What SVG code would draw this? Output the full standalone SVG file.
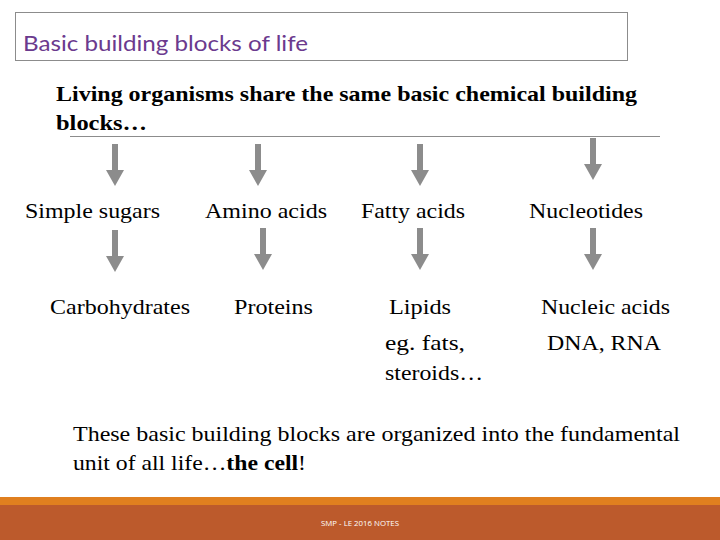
<svg xmlns="http://www.w3.org/2000/svg" width="720" height="540" viewBox="0 0 720 540">
<style>
.t{font-family:"Liberation Serif",serif;font-size:21px;fill:#000}
.a{fill:#8c8c8c}
</style>
<defs>
<path id="arr" class="a" d="M-3,0 H3 V26 H9 L0,42 L-9,26 H-3 Z"/>
</defs>
<rect width="720" height="540" fill="#fff"/>
<g id="title">
<rect x="15.5" y="12.5" width="612" height="48" fill="none" stroke="#8c8c8c"/>
<text x="23" y="51" font-family="Lato,'Open Sans',sans-serif" font-size="21" fill="#6b3a8e" textLength="285" lengthAdjust="spacingAndGlyphs">Basic building blocks of life</text>
</g>
<g id="intro">
<text class="t" x="56" y="101" font-weight="bold" textLength="581" lengthAdjust="spacingAndGlyphs">Living organisms share the same basic chemical building</text>
<text class="t" x="56" y="130" font-weight="bold" textLength="91" lengthAdjust="spacingAndGlyphs">blocks…</text>
<line x1="70" y1="136.5" x2="660" y2="136.5" stroke="#8c8c8c"/>
</g>
<g id="connectors">
<use href="#arr" x="115" y="144"/>
<use href="#arr" x="258" y="144"/>
<use href="#arr" x="420" y="144"/>
<use href="#arr" x="593" y="138"/>
<use href="#arr" x="115" y="230"/>
<use href="#arr" x="263" y="228"/>
<use href="#arr" x="420" y="228"/>
<use href="#arr" x="593" y="228"/>
</g>
<g id="simple-sugars"><text class="t" x="25" y="218" textLength="135" lengthAdjust="spacingAndGlyphs">Simple sugars</text></g>
<g id="amino-acids"><text class="t" x="205" y="218" textLength="122" lengthAdjust="spacingAndGlyphs">Amino acids</text></g>
<g id="fatty-acids"><text class="t" x="361" y="218" textLength="104" lengthAdjust="spacingAndGlyphs">Fatty acids</text></g>
<g id="nucleotides"><text class="t" x="529" y="218" textLength="114" lengthAdjust="spacingAndGlyphs">Nucleotides</text></g>
<g id="carbohydrates"><text class="t" x="50" y="314" textLength="140" lengthAdjust="spacingAndGlyphs">Carbohydrates</text></g>
<g id="proteins"><text class="t" x="234" y="314" textLength="79" lengthAdjust="spacingAndGlyphs">Proteins</text></g>
<g id="lipids"><text class="t" x="389" y="314" textLength="62" lengthAdjust="spacingAndGlyphs">Lipids</text>
<text class="t" x="385" y="350" textLength="80" lengthAdjust="spacingAndGlyphs">eg. fats,</text>
<text class="t" x="385" y="380" textLength="98" lengthAdjust="spacingAndGlyphs">steroids…</text></g>
<g id="nucleic-acids"><text class="t" x="541" y="314" textLength="129" lengthAdjust="spacingAndGlyphs">Nucleic acids</text>
<text class="t" x="547" y="350" textLength="114" lengthAdjust="spacingAndGlyphs">DNA, RNA</text></g>
<g id="conclusion">
<text class="t" x="73" y="441" textLength="607" lengthAdjust="spacingAndGlyphs">These basic building blocks are organized into the fundamental</text>
<text class="t" x="73" y="470" textLength="233" lengthAdjust="spacingAndGlyphs">unit of all life…<tspan font-weight="bold">the cell</tspan>!</text>
</g>
<g id="footer">
<rect x="0" y="497" width="720" height="8" fill="#e07f1f"/>
<rect x="0" y="505" width="720" height="35" fill="#bc5a2c"/>
<text x="360" y="526" text-anchor="middle" font-family="'Open Sans',sans-serif" font-size="7" fill="#fff" textLength="78" lengthAdjust="spacingAndGlyphs">SMP - LE 2016 NOTES</text>
</g>
</svg>
